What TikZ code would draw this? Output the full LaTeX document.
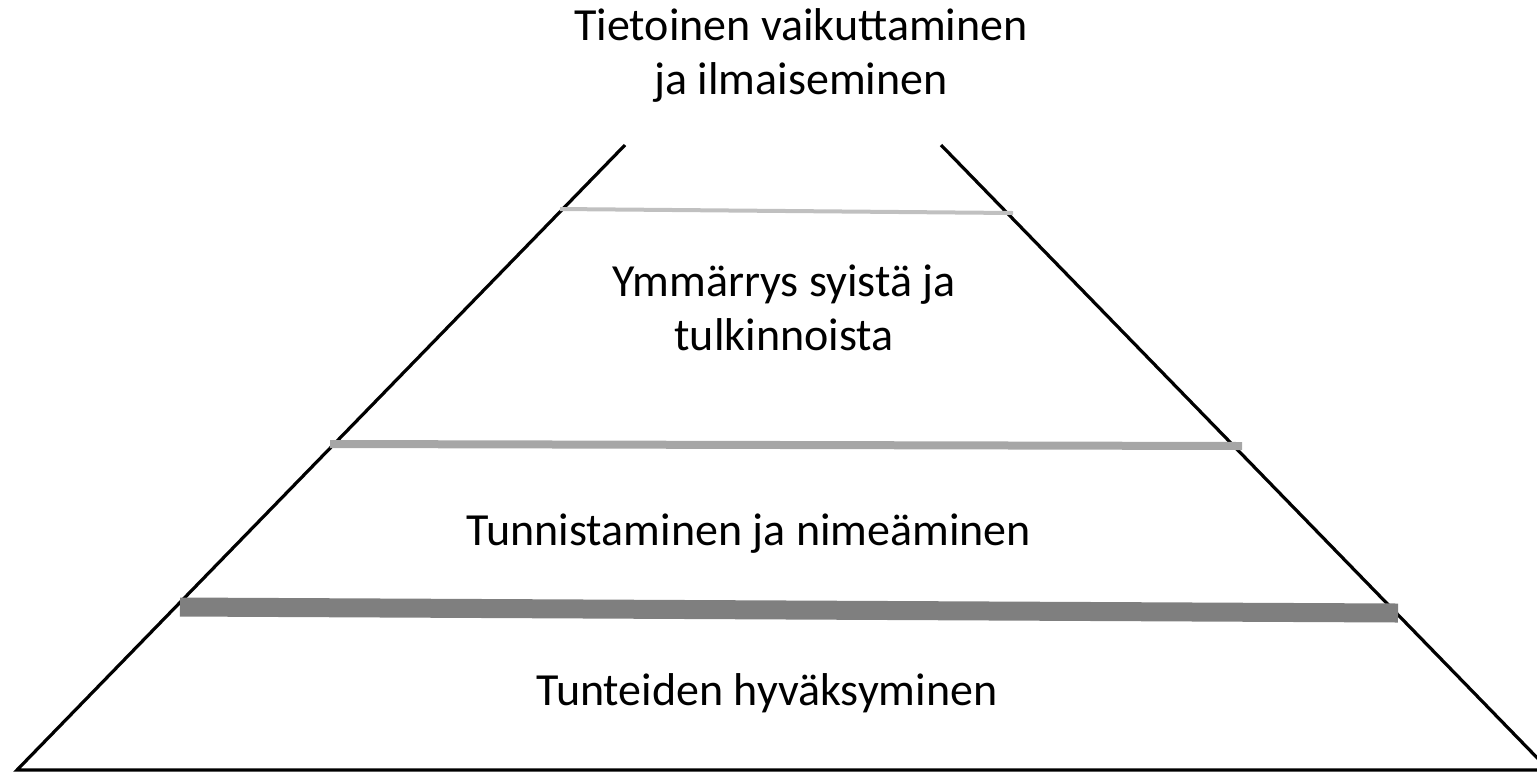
\documentclass[tikz,border=0pt]{standalone}
\usepackage{fontspec}
\setmainfont{Carlito}
\usetikzlibrary{positioning,calc}

\begin{document}
\begin{tikzpicture}[x=0.5pt,y=-0.5pt,
		slope/.style={line width=1.6pt, draw=black},
		tier/.style={line width=#1, line cap=butt},
		tiertext/.style={anchor=base, align=center, inner sep=0pt, font=\fontsize{23}{27}\selectfont}]
		\clip (0,0) rectangle (1537,773);
		% pyramid corners
		\coordinate (TL) at (625,145);
		\coordinate (TR) at (941,145);
		\coordinate (BL) at (17,770);
		\coordinate (BR) at (1549,770);
		\draw[slope] (TL) -- (BL) -- (BR) -- (TR);
		% dividing bars
		\coordinate (A1) at (560,209);
		\coordinate (A2) at (1013,213);
		\coordinate (B1) at (330,444);
		\coordinate (B2) at (1242,446);
		\coordinate (C1) at (180,607);
		\coordinate (C2) at (1398,613);
		\draw[tier=2pt, draw={rgb,255:red,192;green,192;blue,192}] (A1) -- (A2);
		\draw[tier=4pt, draw={rgb,255:red,166;green,166;blue,166}] (B1) -- (B2);
		\draw[tier=9.5pt, draw={rgb,255:red,127;green,127;blue,127}] (C1) -- (C2);
		% texts (base = last line)
		\node[tiertext] (Top) at (801,94) {Tietoinen vaikuttaminen\\ja ilmaiseminen};
		\node[tiertext] (Mid) at (784,350) {Ymmärrys syistä ja\\tulkinnoista};
		\node[tiertext] (Low) at (749,545) {Tunnistaminen ja nimeäminen};
		\node[tiertext] (Base) at (767,705) {Tunteiden hyväksyminen};
	\end{tikzpicture}
\end{document}
